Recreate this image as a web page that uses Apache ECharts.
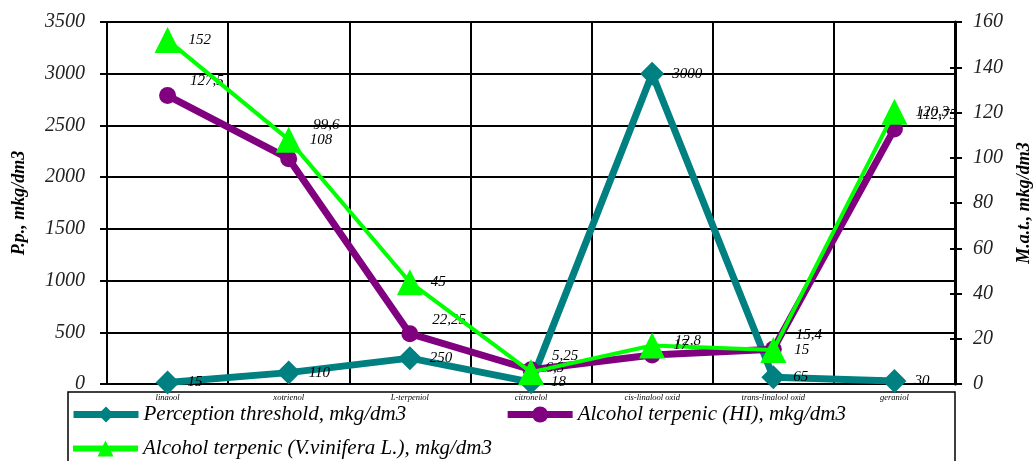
<!DOCTYPE html>
<html><head><meta charset="utf-8">
<script src="https://cdn.jsdelivr.net/npm/echarts@6/dist/echarts.min.js"></script>
<style>html,body{margin:0;padding:0;background:#fff}#c{width:1035px;height:461px}</style>
</head><body><div id="c"></div>
<script>
const categories = ['linaool','xotrienol','L-terpeniol','citronelol','cis-linalool oxid','trans-linalool oxid','geraniol'];
const perception = [15, 110, 250, 18, 3000, 65, 30];
const alcoholHI = [127.5, 99.6, 22.25, 6.3, 12.8, 15.4, 112.75];
const alcoholVin = [152, 108, 45, 5.25, 17, 15, 120.3];
const leftTicks = {min: 0, max: 3500, interval: 500};
const rightTicks = {min: 0, max: 160, interval: 20};
const seriesNames = ['Perception threshold, mkg/dm3', 'Alcohol terpenic (HI), mkg/dm3', 'Alcohol terpenic (V.vinifera L.), mkg/dm3'];

// label nudges (styling, not data)
const hiLabelOffset = {'xotrienol': [8, -34], 'citronelol': [-2, -2]};
const vinLabelOffset = {'citronelol': [0, -16]};

const FONT = '"Liberation Serif", "DejaVu Serif", serif';
const fmt = p => String(p.value).replace('.', ',');
const lbl = (offset) => ({show: true, position: 'right', distance: 8, offset: offset, formatter: fmt,
  fontFamily: FONT, fontStyle: 'italic', fontSize: 15, color: '#000'});
const withOffsets = (arr, map) => arr.map((v, i) => map[categories[i]]
  ? {value: v, label: {offset: map[categories[i]]}} : v);

const innerTickAxis = (t, pos) => ({
  type: 'value', min: t.min, max: t.max, interval: t.interval, position: pos,
  axisLine: {show: false}, axisLabel: {show: false}, splitLine: {show: false},
  axisTick: {show: true, inside: true, length: 5, lineStyle: {color: '#000', width: 2}}
});

const chart = echarts.init(document.getElementById('c'), null, {renderer: 'canvas'});
const legendText = {fontFamily: FONT, fontStyle: 'italic', fontSize: 21, color: '#000'};
chart.setOption({
  animation: false,
  backgroundColor: '#fff',
  grid: {left: 107, right: 80, top: 22, bottom: 77, containLabel: false, outerBoundsMode: 'none'},
  graphic: [{type: 'rect', shape: {x: 68, y: 392, width: 887, height: 80}, style: {fill: 'none', stroke: '#000', lineWidth: 1.5}, z: 1}],
  legend: [{
    left: 65, top: 399, orient: 'horizontal', padding: 5,
    itemWidth: 65, itemHeight: 20, itemGap: 98,
    lineStyle: {width: 7},
    textStyle: legendText,
    data: [seriesNames[0], seriesNames[1]]
  }, {
    left: 65, top: 433, orient: 'horizontal', padding: 5,
    itemWidth: 65, itemHeight: 20,
    lineStyle: {width: 6},
    textStyle: legendText,
    data: [seriesNames[2]]
  }],
  xAxis: {
    type: 'category', data: categories, boundaryGap: true,
    axisLine: {lineStyle: {color: '#000', width: 2}},
    axisTick: {show: false},
    splitLine: {show: true, lineStyle: {color: '#000', width: 2}},
    axisLabel: {fontFamily: FONT, fontStyle: 'italic', fontSize: 8.5, color: '#000', margin: 9, interval: 0}
  },
  yAxis: [{
    type: 'value', min: leftTicks.min, max: leftTicks.max, interval: leftTicks.interval,
    name: 'P.p., mkg/dm3', nameLocation: 'middle', nameGap: 79, nameRotate: 90,
    nameTextStyle: {fontFamily: FONT, fontStyle: 'italic', fontWeight: 'bold', fontSize: 18, color: '#000'},
    axisLine: {show: true, lineStyle: {color: '#000', width: 2}},
    axisTick: {show: true, length: 7, lineStyle: {color: '#000', width: 2}},
    splitLine: {show: true, lineStyle: {color: '#000', width: 2}},
    axisLabel: {fontFamily: FONT, fontStyle: 'italic', fontSize: 20, color: '#222', margin: 22, formatter: v => String(v)}
  }, {
    type: 'value', min: rightTicks.min, max: rightTicks.max, interval: rightTicks.interval,
    name: 'M.a.t., mkg/dm3', nameLocation: 'middle', nameGap: 60, nameRotate: 90,
    nameTextStyle: {fontFamily: FONT, fontStyle: 'italic', fontWeight: 'bold', fontSize: 18, color: '#000'},
    axisLine: {show: true, lineStyle: {color: '#000', width: 3}},
    axisTick: {show: true, length: 7, lineStyle: {color: '#000', width: 2}},
    splitLine: {show: false},
    axisLabel: {fontFamily: FONT, fontStyle: 'italic', fontSize: 20, color: '#222', margin: 18, formatter: v => String(v)}
  }, innerTickAxis(leftTicks, 'left'), innerTickAxis(rightTicks, 'right')],
  series: [{
    name: seriesNames[0], type: 'line', yAxisIndex: 0, data: perception,
    symbol: 'diamond', symbolSize: 24, z: 3,
    lineStyle: {color: '#008080', width: 7}, itemStyle: {color: '#008080'},
    label: lbl([0, 0])
  }, {
    name: seriesNames[1], type: 'line', yAxisIndex: 1, data: withOffsets(alcoholHI, hiLabelOffset),
    symbol: 'circle', symbolSize: 17, z: 4,
    lineStyle: {color: '#800080', width: 7}, itemStyle: {color: '#800080'},
    label: lbl([6, -14])
  }, {
    name: seriesNames[2], type: 'line', yAxisIndex: 1, data: withOffsets(alcoholVin, vinLabelOffset),
    symbol: 'triangle', symbolSize: 26, z: 5,
    lineStyle: {color: '#00ff00', width: 4}, itemStyle: {color: '#00ff00'},
    label: lbl([0, 0])
  }]
});
</script></body></html>
